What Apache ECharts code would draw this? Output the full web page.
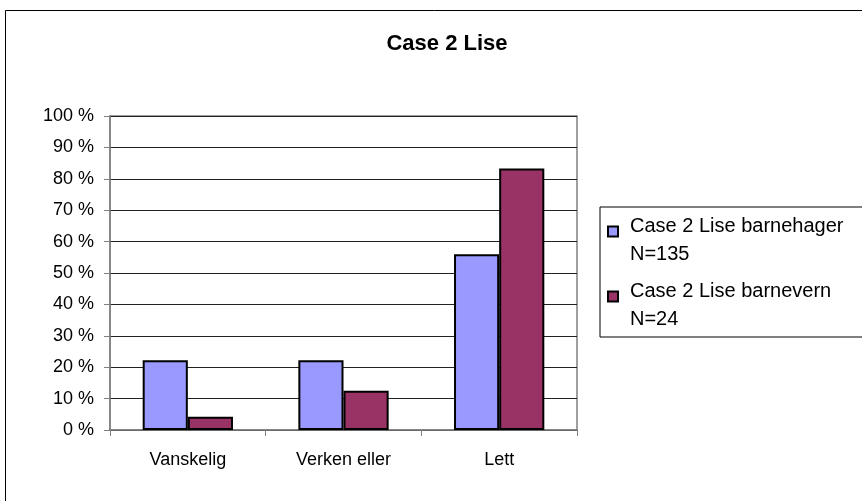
<!DOCTYPE html>
<html>
<head>
<meta charset="utf-8">
<script src="https://cdn.jsdelivr.net/npm/echarts@6/dist/echarts.min.js"></script>
<style>
  html, body { margin: 0; padding: 0; background: #ffffff; }
  #chart { width: 862px; height: 501px; }
</style>
</head>
<body>
<div id="chart"></div>
<script>
var categories = ["Vanskelig", "Verken eller", "Lett"];
var seriesNames = ["Case 2 Lise barnehager\nN=135", "Case 2 Lise barnevern\nN=24"];
var barnehager = [22.2, 22.2, 56];
var barnevern = [4.2, 12.5, 83.3];
var yTicks = [0, 10, 20, 30, 40, 50, 60, 70, 80, 90, 100];

var font = "'Liberation Sans', Arial, sans-serif";
// square top-left, blank space right and below so the icon sits beside the first line
var legendIcon = "path://M0,0H10V10H0Z M17,27";

var chart = echarts.init(document.getElementById("chart"));
var option = {
  animation: false,
  backgroundColor: "#ffffff",
  title: {
    text: "Case 2 Lise",
    left: 442,
    top: 28,
    textAlign: "center",
    textStyle: { fontFamily: font, fontSize: 22, fontWeight: "bold", color: "#000" }
  },
  graphic: [
    {
      type: "rect",
      shape: { x: 5.5, y: 10.5, width: 900, height: 600 },
      style: { fill: "none", stroke: "#000", lineWidth: 1 },
      z: -1
    }
  ],
  grid: { left: 110, top: 116, right: 285, bottom: 71, show: true, borderColor: "#808080", borderWidth: 1.5 },
  legend: {
    orient: "vertical",
    left: 600,
    top: 207,
    padding: [5, 40, 4, 7],
    itemGap: 9,
    itemWidth: 17,
    itemHeight: 27,
    icon: legendIcon,
    borderColor: "#000",
    borderWidth: 1,
    textStyle: { fontFamily: font, fontSize: 20, color: "#000", lineHeight: 28 },
    data: seriesNames
  },
  xAxis: {
    type: "category",
    data: categories,
    axisLine: { lineStyle: { color: "#808080", width: 1.5 } },
    axisTick: { show: true, length: 6, lineStyle: { color: "#808080" } },
    axisLabel: { margin: 21, fontFamily: font, fontSize: 18, color: "#000" },
    splitLine: { show: false }
  },
  yAxis: {
    type: "value",
    min: 0,
    max: 100,
    interval: 10,
    axisLine: { show: true, lineStyle: { color: "#808080", width: 1.5 } },
    axisTick: { show: true, length: 6, lineStyle: { color: "#808080" } },
    axisLabel: {
      margin: 16,
      fontFamily: font,
      fontSize: 18,
      color: "#000",
      formatter: function (v) { return yTicks.indexOf(v) >= 0 ? v + " %" : ""; }
    },
    splitLine: { show: true, lineStyle: { color: "#222", width: 1 } }
  },
  series: [
    {
      name: seriesNames[0],
      type: "bar",
      data: barnehager,
      barGap: "0%",
      barCategoryGap: "42%",
      itemStyle: { color: "#9999ff", borderColor: "#000", borderWidth: 2 }
    },
    {
      name: seriesNames[1],
      type: "bar",
      data: barnevern,
      barGap: "0%",
      barCategoryGap: "42%",
      itemStyle: { color: "#993366", borderColor: "#000", borderWidth: 2 }
    }
  ]
};
chart.setOption(option);
</script>
</body>
</html>
